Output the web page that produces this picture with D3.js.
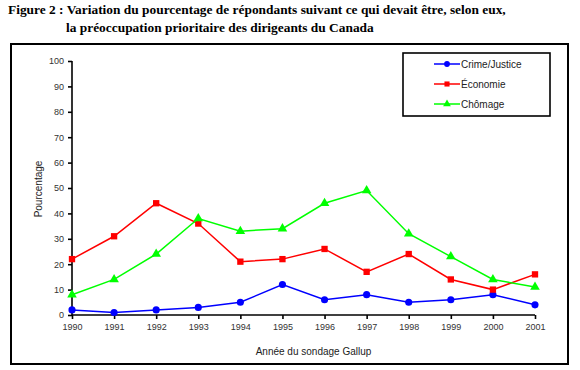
<!DOCTYPE html>
<html>
<head>
<meta charset="utf-8">
<script src="https://cdn.jsdelivr.net/npm/d3@7"></script>
<style>
  body { margin: 0; background: #fff; }
  svg { display: block; }
</style>
</head>
<body>
<svg id="chart" width="580" height="370"></svg>
<script>
// data
var years = [1990, 1991, 1992, 1993, 1994, 1995, 1996, 1997, 1998, 1999, 2000, 2001];
var crime = [2, 1, 2, 3, 5, 12, 6, 8, 5, 6, 8, 4];
var economie = [22, 31, 44, 36, 21, 22, 26, 17, 24, 14, 10, 16];
var chomage = [8, 14, 24, 38, 33, 34, 44, 49, 32, 23, 14, 11];
var yTicks = [0, 10, 20, 30, 40, 50, 60, 70, 80, 90, 100];

var seriesList = [
  { name: 'Crime/Justice', values: crime, color: '#0000ff', shape: d3.symbolCircle, size: 40 },
  { name: 'Économie', values: economie, color: '#ff0000', shape: d3.symbolSquare, size: 40 },
  { name: 'Chômage', values: chomage, color: '#00ff00', shape: d3.symbolTriangle, size: 40 }
];

var svg = d3.select('#chart');

// title
var title = svg.append('text')
  .attr('font-family', '"Liberation Serif", "Times New Roman", serif')
  .attr('font-weight', 'bold')
  .attr('font-size', 13.4)
  .attr('fill', '#000');
title.append('tspan').attr('x', 8).attr('y', 14)
  .text('Figure 2 : Variation du pourcentage de répondants suivant ce qui devait être, selon eux,');
title.append('tspan').attr('x', 66).attr('y', 32)
  .text('la préoccupation prioritaire des dirigeants du Canada');

// outer frame
svg.append('rect')
  .attr('x', 11).attr('y', 44)
  .attr('width', 557).attr('height', 320)
  .attr('fill', 'none')
  .attr('stroke', '#000')
  .attr('stroke-width', 2);

var margin = { left: 72, right: 535, top: 61, bottom: 315 };

var x = d3.scalePoint()
  .domain(years)
  .range([margin.left, margin.right]);

var y = d3.scaleLinear()
  .domain([0, 100])
  .range([margin.bottom, margin.top]);

// axes
var xAxis = svg.append('g')
  .attr('transform', 'translate(0,' + margin.bottom + ')')
  .call(d3.axisBottom(x).tickSize(4).tickPadding(5));

var yAxis = svg.append('g')
  .attr('transform', 'translate(' + margin.left + ',0)')
  .call(d3.axisLeft(y).tickValues(yTicks).tickSize(4).tickPadding(4));

[xAxis, yAxis].forEach(function (g) {
  g.select('.domain').attr('stroke', '#000').attr('stroke-width', 1.6);
  g.selectAll('.tick line').attr('stroke', '#000').attr('stroke-width', 1.6);
  g.selectAll('.tick text')
    .attr('fill', '#333')
    .attr('font-family', '"Liberation Sans", Arial, sans-serif')
    .attr('font-size', 9);
});
// no outer end caps
xAxis.select('.domain').attr('d', 'M' + margin.left + ',0H' + margin.right);
yAxis.select('.domain').attr('d', 'M0,' + margin.top + 'V' + margin.bottom);

// axis titles
svg.append('text')
  .attr('x', (margin.left + margin.right) / 2 + 10)
  .attr('y', 355)
  .attr('text-anchor', 'middle')
  .attr('font-family', '"Liberation Sans", Arial, sans-serif')
  .attr('font-size', 10)
  .attr('fill', '#222')
  .text('Année du sondage Gallup');

svg.append('text')
  .attr('transform', 'translate(42,' + ((margin.top + margin.bottom) / 2 + 1) + ') rotate(-90)')
  .attr('text-anchor', 'middle')
  .attr('font-family', '"Liberation Sans", Arial, sans-serif')
  .attr('font-size', 10)
  .attr('fill', '#222')
  .text('Pourcentage');

// lines and markers
var line = d3.line()
  .x(function (d, i) { return x(years[i]); })
  .y(function (d) { return y(d); });

seriesList.forEach(function (s) {
  svg.append('path')
    .attr('d', line(s.values))
    .attr('fill', 'none')
    .attr('stroke', s.color)
    .attr('stroke-width', 1.5);

  svg.selectAll(null)
    .data(s.values)
    .enter()
    .append('path')
    .attr('d', d3.symbol().type(s.shape).size(s.size))
    .attr('transform', function (d, i) {
      return 'translate(' + x(years[i]) + ',' + y(d) + ')';
    })
    .attr('fill', s.color);
});

// legend
var legend = svg.append('g');
legend.append('rect')
  .attr('x', 403).attr('y', 53)
  .attr('width', 147).attr('height', 63)
  .attr('fill', '#fff')
  .attr('stroke', '#000')
  .attr('stroke-width', 1.6);

seriesList.forEach(function (s, i) {
  var ly = 64 + i * 20;
  legend.append('line')
    .attr('x1', 434).attr('x2', 460)
    .attr('y1', ly).attr('y2', ly)
    .attr('stroke', s.color)
    .attr('stroke-width', 1.5);
  legend.append('path')
    .attr('d', d3.symbol().type(s.shape).size(26))
    .attr('transform', 'translate(447,' + ly + ')')
    .attr('fill', s.color);
  legend.append('text')
    .attr('x', 461).attr('y', ly + 3.5)
    .attr('font-family', '"Liberation Sans", Arial, sans-serif')
    .attr('font-size', 10)
    .attr('fill', '#222')
    .text(s.name);
});
</script>
</body>
</html>
